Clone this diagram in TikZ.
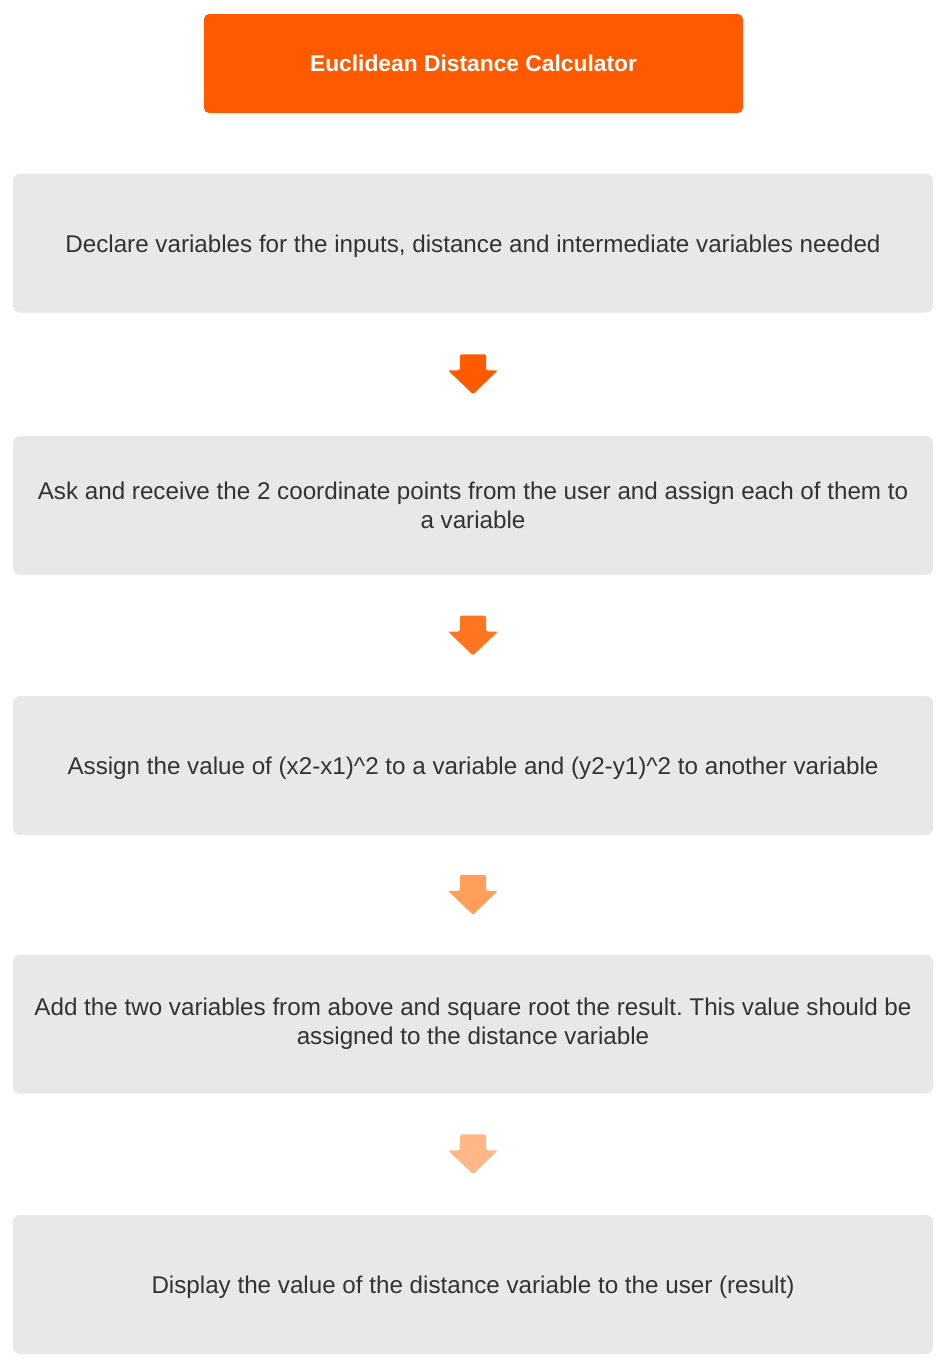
\documentclass[tikz,border=0pt]{standalone}
\usepackage{fontspec}
\setmainfont{Liberation Sans}
\usetikzlibrary{calc}
\frenchspacing
\definecolor{titleor}{HTML}{FF5A00}
\definecolor{arrA}{HTML}{FF5A00}
\definecolor{arrB}{HTML}{FF7520}
\definecolor{arrC}{HTML}{FF9F58}
\definecolor{arrD}{HTML}{FFB885}
\definecolor{boxgray}{HTML}{E8E8E8}
\definecolor{txt}{HTML}{333333}
\tikzset{
  titlebox/.style={fill=titleor, rounded corners=5pt, minimum width=539pt, minimum height=99pt, inner sep=0pt, text=white, font=\fontsize{22.8}{28}\selectfont\bfseries},
  stepbox/.style={fill=boxgray, rounded corners=7pt, minimum width=920pt, minimum height=139pt, inner sep=0pt, text=txt, align=center, font=\frenchspacing\fontsize{24.2}{29}\selectfont},
  oneline/.style={text height=23pt, text depth=5pt},
}
\newcommand{\downarrowshape}[2]{%
  \fill[#1, rounded corners=2pt, shift={(#2)}] (-13,20) -- (13,20) -- (13,4) -- (25,4) -- (0,-20) -- (-25,4) -- (-13,4) -- cycle;}
\begin{document}
\begin{tikzpicture}[x=1pt,y=1pt]
\useasboundingbox (0,0) rectangle (949,-1369);
\node[titlebox] (title) at (473.5,-63.5) {Euclidean Distance Calculator};
\node[stepbox, oneline] (s1) at (473,-243) {Declare variables for the inputs, distance and intermediate variables needed};
\node[stepbox] (s2) at (473,-505.5) {Ask and receive the 2 coordinate points from the user and assign each of them to\\a variable};
\node[stepbox, oneline] (s3) at (473,-765.5) {Assign the value of (x2-x1)\^{}2 to a variable and (y2-y1)\^{}2 to another variable};
\node[stepbox] (s4) at (473,-1024) {Add the two variables from above and square root the result. This value should be\\assigned to the distance variable};
\node[stepbox, oneline] (s5) at (473,-1284.5) {Display the value of the distance variable to the user (result)};
\coordinate (m1) at ($(s1.south)!0.5!(s2.north)$);
\coordinate (m2) at ($(s2.south)!0.5!(s3.north)$);
\coordinate (m3) at ($(s3.south)!0.5!(s4.north)$);
\coordinate (m4) at ($(s4.south)!0.5!(s5.north)$);
\downarrowshape{arrA}{m1}
\downarrowshape{arrB}{m2}
\downarrowshape{arrC}{m3}
\downarrowshape{arrD}{m4}
\end{tikzpicture}
\end{document}
